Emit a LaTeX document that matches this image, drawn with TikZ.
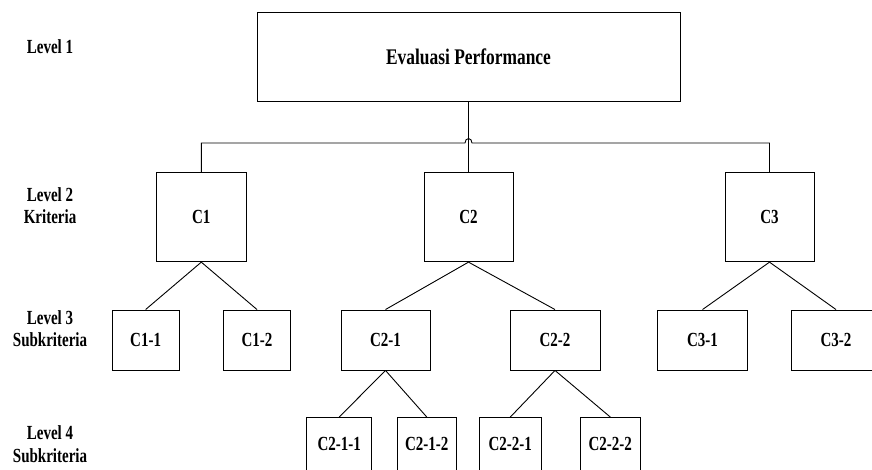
\documentclass[tikz,border=0pt]{standalone}
\usepackage{fontspec}
\setmainfont{Liberation Serif}[FakeStretch=0.75]
\newfontfamily\titlefont{Liberation Serif}[FakeStretch=0.78]
\begin{document}
\begin{tikzpicture}[x=1pt,y=1pt,
  box/.style={draw=black, line width=0.9pt, inner sep=0pt, font=\fontsize{20}{24}\selectfont\bfseries},
  lvl/.style={align=center, anchor=base, font=\fontsize{20}{24}\selectfont\bfseries},
  link/.style={draw=black, line width=0.9pt}]
  \useasboundingbox (0,0) rectangle (872,470);
  \fill[white] (0,0) rectangle (872,470);
  \clip (0,0) rectangle (872,470);

  % level labels on the left
  \node[lvl] (l1)  at (50,416.7) {Level 1};
  \node[lvl] (l2a) at (50,268.3) {Level 2};
  \node[lvl] (l2b) at (50,246)   {Kriteria};
  \node[lvl] (l3a) at (50,145.7) {Level 3};
  \node[lvl] (l3b) at (50,123.3) {Subkriteria};
  \node[lvl] (l4a) at (50,30.7)  {Level 4};
  \node[lvl] (l4b) at (50,7.7)   {Subkriteria};

  % level 1: goal
  \node[box, minimum width=423, minimum height=89, font=\titlefont\fontsize{22.3}{26}\selectfont\bfseries]
    (ep) at (468.5,412.8) {Evaluasi Performance};

  % level 2: criteria
  \node[box, minimum width=89.3, minimum height=89.2] (c1) at (201.3,252.9) {C1};
  \node[box, minimum width=89,   minimum height=89.2] (c2) at (468.5,252.9) {C2};
  \node[box, minimum width=89,   minimum height=89.2] (c3) at (769.5,252.9) {C3};

  % level 3: sub-criteria
  \node[box, minimum width=67.3, minimum height=60] (c11) at (145.6,130) {C1-1};
  \node[box, minimum width=67.4, minimum height=60] (c12) at (257,130)   {C1-2};
  \node[box, minimum width=89,   minimum height=60] (c21) at (385.5,130) {C2-1};
  \node[box, minimum width=90,   minimum height=60] (c22) at (555,130)   {C2-2};
  \node[box, minimum width=89.6, minimum height=60] (c31) at (702.5,130) {C3-1};
  \node[box, minimum width=88.6, minimum height=60] (c32) at (836,130)   {C3-2};

  % level 4: sub-criteria
  \node[box, minimum width=65,   minimum height=53] (c211) at (339.2,26) {C2-1-1};
  \node[box, minimum width=59.7, minimum height=53] (c212) at (426.8,26) {C2-1-2};
  \node[box, minimum width=62.7, minimum height=53] (c221) at (510.3,26) {C2-2-1};
  \node[box, minimum width=60.7, minimum height=53] (c222) at (610.3,26) {C2-2-2};

  % goal to criteria: trunk plus bus with a hop where they cross
  \coordinate (hop) at (ep.south |- 0,327);
  \draw[link] (ep.south) -- (c2.north);
  \draw[link] (c1.north) |- ([xshift=-3.5pt]hop)
    arc[start angle=180, end angle=0, x radius=3.5, y radius=4.5] -| (c3.north);

  % criteria to sub-criteria
  \draw[link] (c1.south) -- (c11.north);
  \draw[link] (c1.south) -- (c12.north);
  \draw[link] (c2.south) -- (c21.north);
  \draw[link] (c2.south) -- (c22.north);
  \draw[link] (c3.south) -- (c31.north);
  \draw[link] (c3.south) -- (c32.north);

  % sub-criteria to level 4
  \draw[link] (c21.south) -- (c211.north);
  \draw[link] (c21.south) -- (c212.north);
  \draw[link] (c22.south) -- (c221.north);
  \draw[link] (c22.south) -- (c222.north);
\end{tikzpicture}
\end{document}
